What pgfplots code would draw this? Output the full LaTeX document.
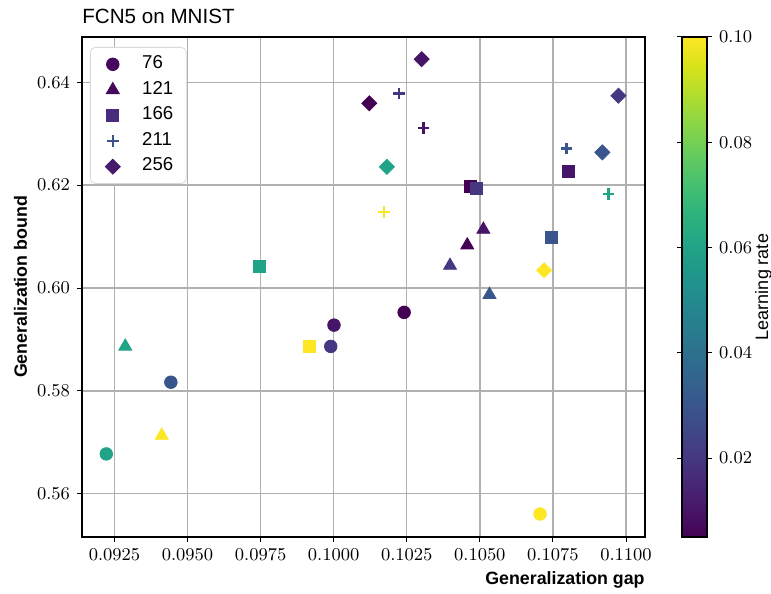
\documentclass[border=0pt]{standalone}
\usepackage{fontspec}
\setmainfont{Liberation Sans}
\usepackage{pgfplots}
\pgfplotsset{compat=1.18}
\definecolor{gridc}{HTML}{B0B0B0}
\definecolor{lc1}{HTML}{46085C}
\definecolor{lc2}{HTML}{46085C}
\definecolor{lc3}{HTML}{472D7B}
\definecolor{lc4}{HTML}{3B528B}
\definecolor{lc5}{HTML}{481A6C}
\newcommand{\lblfont}{\fontsize{9}{11}\selectfont}
\begin{document}
\begin{tikzpicture}
\pgfplotsset{every tick label/.append style={font=\fontsize{9.2}{11}\selectfont}}
\begin{axis}[name=main, scale only axis, width=281.5pt, height=250pt,
  xmin=0.09139, xmax=0.11065, ymin=0.5516, ymax=0.6488,
  xtick={0.0925,0.095,0.0975,0.1,0.1025,0.105,0.1075,0.11},
  ytick={0.56,0.58,0.60,0.62,0.64},
  scaled ticks=false,
  xticklabel style={/pgf/number format/.cd, fixed, fixed zerofill, precision=4},
  yticklabel style={/pgf/number format/.cd, fixed, fixed zerofill, precision=2},
  grid=major, grid style={gridc, line width=0.7pt},
  axis line style={line width=0.6pt},
  tick align=outside, major tick length=2.5pt, tick style={black, line width=0.5pt},
  xtick pos=lower, ytick pos=left,
  title={FCN5 on MNIST},
  title style={at={(axis description cs:0,1.026)}, anchor=base west, yshift=-6pt, font=\fontsize{10.3}{12}\selectfont, inner sep=0pt},
  xlabel={Generalization gap},
  xlabel style={at={(axis description cs:1,-0.096)}, anchor=base east, font=\bfseries\fontsize{8.9}{11}\selectfont, inner sep=0pt},
  ylabel={Generalization bound},
  ylabel style={at={(axis description cs:-0.0977,0.5)}, anchor=base, font=\bfseries\fontsize{8.9}{11}\selectfont, inner sep=0pt},
  colormap/viridis, point meta min=0.005, point meta max=0.1,
  colorbar,
  colorbar style={at={(parent axis.north east)}, anchor=north west, xshift=10pt,
    scale only axis, width=12.5pt, height=250pt,
    ytick={0.02,0.04,0.06,0.08,0.1},
    yticklabel style={/pgf/number format/.cd, fixed, fixed zerofill, precision=2},
    ylabel={Learning rate},
    ylabel style={at={(axis description cs:3.44,0.5)}, anchor=base, font=\lblfont, inner sep=0pt},
    axis line style={line width=0.6pt},
    tick align=outside, major tick length=2.5pt, tick style={black, line width=0.5pt}},
  legend style={at={(axis description cs:0.0142,0.98)}, anchor=north west,
    draw=gray!30, rounded corners=2.5pt, fill=white,
    inner xsep=5pt, inner ysep=2.5pt, row sep=0.9pt, font=\fontsize{9.3}{11}\selectfont,
    nodes={inner sep=1.5pt, text height=6.6pt, text depth=2.3pt}},
  legend cell align=left,
  legend image code/.code={\path (-6pt,0pt) (13pt,0pt); \draw[#1] plot coordinates {(0pt,0pt)};},
]
% 76 (circles)
\addplot[scatter, only marks, mark=*, mark size=3.15pt, point meta=explicit, forget plot,
  scatter/use mapped color={draw=mapped color, fill=mapped color}]
  table[meta=c] {
x y c
0.09222 0.56775 0.06
0.09443 0.58169 0.03
0.09990 0.58865 0.02
0.10001 0.59279 0.01
0.10241 0.59527 0.005
0.10706 0.55607 0.1
};
% 121 (triangles)
\addplot[scatter, only marks, mark=triangle*, mark size=3.75pt, point meta=explicit, forget plot,
  scatter/use mapped color={draw=mapped color, fill=mapped color}]
  table[meta=c] {
x y c
0.09287 0.58865 0.06
0.09412 0.57132 0.1
0.10398 0.60436 0.02
0.10457 0.60832 0.005
0.10512 0.61137 0.01
0.10533 0.59871 0.03
};
% 166 (squares)
\addplot[scatter, only marks, mark=square*, mark size=3pt, point meta=explicit, forget plot,
  scatter/use mapped color={draw=mapped color, fill=mapped color}]
  table[meta=c] {
x y c
0.09746 0.60428 0.06
0.09916 0.58865 0.1
0.10467 0.61967 0.005
0.10489 0.61942 0.02
0.10746 0.60981 0.03
0.10804 0.62273 0.01
};
% 211 (plus)
\addplot[scatter, only marks, mark=+, mark size=2.9pt, mark options={line width=1.2pt}, point meta=explicit, forget plot,
  scatter/use mapped color={draw=mapped color, fill=mapped color}]
  table[meta=c] {
x y c
0.10172 0.61474 0.1
0.10223 0.63778 0.02
0.10307 0.63116 0.01
0.10797 0.62715 0.03
0.10940 0.61825 0.06
};
% 256 (diamonds)
\addplot[scatter, only marks, mark=diamond*, mark size=3.75pt, mark options={xscale=1.333}, point meta=explicit, forget plot,
  scatter/use mapped color={draw=mapped color, fill=mapped color}]
  table[meta=c] {
x y c
0.10122 0.63591 0.005
0.10301 0.64448 0.01
0.10182 0.62356 0.06
0.10919 0.62637 0.03
0.10974 0.63739 0.02
0.10720 0.60345 0.1
};
\addlegendimage{only marks, mark=*, mark size=3.15pt, draw=lc1, fill=lc1}
\addlegendentry{76}
\addlegendimage{only marks, mark=triangle*, mark size=3.75pt, draw=lc2, fill=lc2}
\addlegendentry{121}
\addlegendimage{only marks, mark=square*, mark size=3pt, draw=lc3, fill=lc3}
\addlegendentry{166}
\addlegendimage{only marks, mark=+, mark size=2.9pt, mark options={line width=1.2pt}, draw=lc4, fill=lc4}
\addlegendentry{211}
\addlegendimage{only marks, mark=diamond*, mark size=3.75pt, mark options={xscale=1.333}, draw=lc5, fill=lc5}
\addlegendentry{256}
\end{axis}
\path (main.south west) ++(-41pt,-28.5pt) coordinate (bbA);
\path (main.north east) ++(63pt,18.5pt) coordinate (bbB);
\pgfresetboundingbox
\useasboundingbox (bbA) rectangle (bbB);
\end{tikzpicture}
\end{document}
